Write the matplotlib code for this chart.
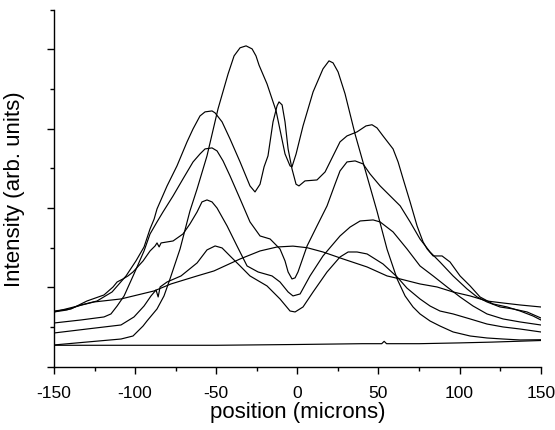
import matplotlib
matplotlib.use("Agg")
import matplotlib.pyplot as plt
from matplotlib.ticker import MultipleLocator

plt.rcParams['font.family'] = ['Liberation Sans', 'DejaVu Sans']

# ---- data (position in microns, intensity in arb. units) ----
base_x = [-150, -100, -50, 0, 40, 52, 53.5, 55, 75, 100, 120, 150]
base_y = [0.27, 0.27, 0.27, 0.28, 0.29, 0.29, 0.32, 0.29, 0.29, 0.30, 0.31, 0.33]

broad_x = [-150, -137.7, -125.3, -108.7, -88.3, -77.9, -61.8, -51.4, -35.3, -23.0, -12.5,
           -2.7, 6.0, 15.8, 28.2, 43.0, 55.3, 63.4, 75.6, 86.1, 96.0, 106.5, 116.9, 126.8,
           137.3, 150]
broad_y = [0.69, 0.753, 0.816, 0.854, 0.955, 1.043, 1.144, 1.207, 1.358, 1.459, 1.509,
           1.52, 1.50, 1.446, 1.358, 1.257, 1.144, 1.106, 1.043, 1.005, 0.942, 0.892, 0.828,
           0.803, 0.778, 0.753]

tall_x = [-150, -129.7, -108.7, -101.3, -95.1, -92.7, -86.5, -82.2, -78.5, -72.3, -66.2,
          -61.8, -55.7, -48.9, -42.7, -39.0, -35.3, -31.6, -27.9, -25.5, -23.6, -18.7,
          -15.6, -13.1, -7.6, -4.5, -3.3, -0.8, 3.5, 9.7, 15.8, 19.5, 22.0, 25.1, 29.4,
          35.6, 41.7, 49.1, 55.3, 61.5, 66.4, 71.3, 75.6, 81.8, 87.9, 96.0, 106.5, 116.9,
          126.8, 137.3, 150]
tall_y = [0.274, 0.311, 0.349, 0.387, 0.513, 0.576, 0.728, 0.892, 1.106, 1.484, 1.963,
          2.241, 2.657, 3.250, 3.690, 3.918, 4.020, 4.044, 4.006, 3.918, 3.800, 3.565,
          3.376, 3.224, 2.682, 2.531, 2.520, 2.680, 3.035, 3.464, 3.754, 3.855, 3.830,
          3.716, 3.440, 2.930, 2.490, 1.960, 1.480, 1.106, 0.892, 0.753, 0.665, 0.576,
          0.513, 0.438, 0.387, 0.362, 0.349, 0.337, 0.340]

d1_x = [-150, -142, -133.4, -123.5, -114.2, -105.6, -99.5, -94.5, -90.8, -88.3, -86.5,
        -80.3, -74.2, -68.0, -64.3, -60.0, -56.9, -52.6, -50.7, -46.4, -41.5, -35.3,
        -29.2, -26.1, -23.0, -20.5, -18.1, -15.0, -12.5, -11.3, -9.4, -7.6, -5.7, -3.3,
        -0.8, 1.0, 4.7, 12.1, 17.1, 22.0, 26.3, 30.6, 36.8, 42.3, 46.0, 49.1, 52.8, 59.0,
        62.1, 65.2, 69.5, 73.8, 77.5, 80.0, 83.7, 89.2, 94.1, 100.3, 106.5, 112.6, 120.6,
        129.3, 137.3, 145.3, 150]
d1_y = [0.69, 0.715, 0.778, 0.828, 0.942, 1.144, 1.333, 1.509, 1.737, 1.860, 1.989,
        2.279, 2.531, 2.834, 2.997, 3.161, 3.212, 3.224, 3.199, 3.086, 2.871, 2.581,
        2.279, 2.203, 2.300, 2.520, 2.657, 3.086, 3.288, 3.338, 3.300, 3.086, 2.745, 2.493,
        2.300, 2.279, 2.342, 2.354, 2.455, 2.657, 2.834, 2.909, 2.960, 3.035, 3.050, 3.010,
        2.909, 2.745, 2.581, 2.367, 2.077, 1.774, 1.573, 1.484, 1.396, 1.396, 1.320, 1.144,
        1.018, 0.879, 0.791, 0.753, 0.702, 0.639, 0.590]

d2_x = [-150, -133.4, -119.2, -114.9, -111.1, -106.8, -100.7, -94.5, -90.8, -86.5, -82.8,
        -76.6, -70.5, -64.3, -60.0, -56.9, -52.6, -49.5, -45.8, -41.5, -35.3, -29.2,
        -23.0, -16.8, -10.7, -7.6, -5.7, -3.3, -1.4, 0.4, 6.0, 12.1, 18.3, 23.2, 26.3,
        30.6, 35.6, 40.5, 44.8, 51.0, 57.2, 63.4, 69.5, 75.6, 81.8, 87.9, 96.0, 104.6,
        110.8, 116.9, 124.9, 133.0, 141.6, 150]
d2_y = [0.551, 0.589, 0.627, 0.665, 0.765, 0.892, 1.169, 1.459, 1.673, 1.825, 1.951,
        2.153, 2.367, 2.581, 2.682, 2.745, 2.758, 2.720, 2.594, 2.405, 2.115, 1.825,
        1.648, 1.610, 1.484, 1.333, 1.194, 1.106, 1.120, 1.194, 1.522, 1.774, 2.027, 2.300,
        2.468, 2.581, 2.594, 2.556, 2.430, 2.279, 2.153, 2.027, 1.825, 1.610, 1.446, 1.320,
        1.144, 0.980, 0.879, 0.816, 0.753, 0.728, 0.690, 0.615]

d3_x = [-150, -139.5, -129.7, -119.2, -113.6, -111.1, -107.5, -104.4, -101.3, -95.1, -90.8,
        -87.7, -86.5, -85.2, -84.0, -76.6, -70.5, -66.2, -61.8, -58.8, -55.7, -52.6,
        -49.5, -43.3, -37.2, -31.0, -24.2, -15.6, -10.7, -5.7, -2.7, 1.7, 7.8, 15.8, 26.3,
        32.5, 38.7, 46.7, 51.0, 59.0, 67.6, 75.6, 83.7, 92.3, 100.3, 108.3, 116.9, 126.8,
        137.3, 150]
d3_y = [0.702, 0.728, 0.828, 0.904, 1.005, 1.068, 1.106, 1.144, 1.194, 1.333, 1.459,
        1.522, 1.560, 1.510, 1.560, 1.585, 1.673, 1.800, 1.951, 2.077, 2.102, 2.077,
        2.000, 1.774, 1.522, 1.270, 1.194, 1.144, 1.068, 0.942, 0.892, 0.917, 1.144, 1.396,
        1.648, 1.760, 1.837, 1.850, 1.825, 1.699, 1.484, 1.270, 1.144, 1.005, 0.879, 0.765,
        0.665, 0.602, 0.564, 0.526]

d4_x = [-150, -129.7, -108.7, -100.7, -94.5, -90.2, -87.1, -85.8, -84.6, -80.3, -71.7,
        -61.8, -55.7, -50.7, -46.4, -41.5, -35.3, -29.2, -18.7, -10.7, -4.5, -1.4, 3.5,
        9.7, 18.3, 26.3, 31.3, 36.8, 43.0, 52.8, 61.5, 67.6, 75.6, 81.8, 87.9, 96.0,
        106.5, 116.9, 126.8, 137.3, 150]
d4_y = [0.425, 0.475, 0.526, 0.627, 0.765, 0.892, 0.967, 0.879, 1.005, 1.068, 1.144,
        1.308, 1.472, 1.522, 1.497, 1.396, 1.270, 1.144, 1.018, 0.854, 0.702, 0.690, 0.753,
        0.942, 1.194, 1.383, 1.446, 1.446, 1.421, 1.295, 1.131, 0.990, 0.854, 0.765, 0.702,
        0.665, 0.602, 0.538, 0.501, 0.475, 0.438]

x_ticks = [-150, -100, -50, 0, 50, 100, 150]
x_label = "position (microns)"
y_label = "Intensity (arb. units)"

# ---- figure ----
fig = plt.figure(figsize=(5.55, 4.31), dpi=100)
ax = fig.add_axes([54 / 555, 1 - 367.7 / 431, 486.7 / 555, 357 / 431])

series = [(base_x, base_y), (broad_x, broad_y), (tall_x, tall_y),
          (d1_x, d1_y), (d2_x, d2_y), (d3_x, d3_y), (d4_x, d4_y)]
for xs, ys in series:
    ax.plot(xs, ys, color='black', lw=0.85, solid_joinstyle='round')

ax.set_xlim(-150, 150)
ax.set_ylim(0, 4.5)
ax.set_xticks(x_ticks)
ax.set_xticklabels([str(t) for t in x_ticks])
ax.xaxis.set_minor_locator(MultipleLocator(25))
ax.yaxis.set_major_locator(MultipleLocator(1))
ax.yaxis.set_minor_locator(MultipleLocator(0.5))
ax.set_yticklabels([])
ax.tick_params(axis='both', which='major', direction='out', length=5, width=1,
               labelsize=12.5, pad=8, color='black')
ax.tick_params(axis='both', which='minor', direction='out', length=3, width=1,
               color='black')
for s in ['top', 'right']:
    ax.spines[s].set_visible(False)
for s in ['left', 'bottom']:
    ax.spines[s].set_linewidth(1.0)

ax.set_xlabel(x_label, fontsize=16, labelpad=1)
ax.set_ylabel(y_label, fontsize=16, labelpad=8)

fig.savefig("out.png", dpi=100)
